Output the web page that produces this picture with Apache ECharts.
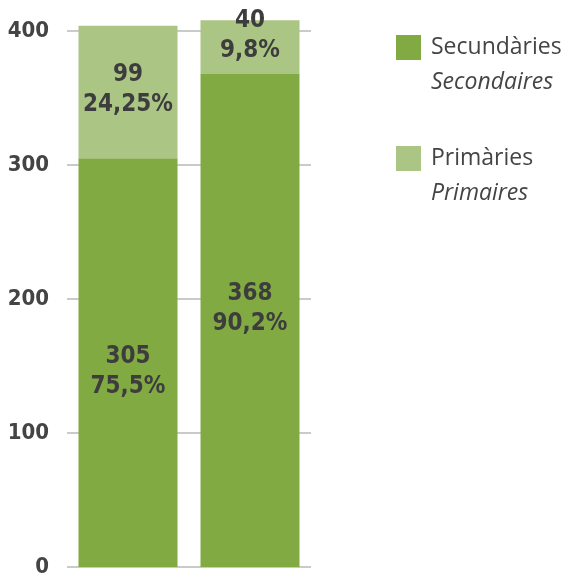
<!DOCTYPE html>
<html>
<head>
<meta charset="utf-8">
<script src="https://cdn.jsdelivr.net/npm/echarts@6/dist/echarts.min.js"></script>
<style>
  html, body { margin: 0; padding: 0; background: #fff; }
  #chart { width: 570px; height: 573px; }
</style>
</head>
<body>
<div id="chart"></div>
<script>
// dades llegides del gràfic
const categories = ['1', '2'];
const secundaries = [305, 368];
const primaries = [99, 40];
const secPct = ['75,5%', '90,2%'];
const primPct = ['24,25%', '9,8%'];
const yTicks = [0, 100, 200, 300, 400];

const DARK = '#82aa43';
const LIGHT = '#abc585';
const TEXT = '#3d3d3d';
const NUM_FONT = "'DejaVu Sans Condensed', 'Liberation Sans Narrow', sans-serif";

// desplaçament vertical de les etiquetes dins de cada tram
const secOffsets = [9, -12];
const primOffsets = [-2, -11];

const chart = echarts.init(document.getElementById('chart'));

const labelRich = {
  n: { fontFamily: NUM_FONT, fontWeight: 'bold', fontSize: 24, color: TEXT, lineHeight: 30 },
  p: { fontFamily: NUM_FONT, fontWeight: 'bold', fontSize: 24, color: TEXT, lineHeight: 30 }
};

const legendRich = {
  e: { fontSize: 23, lineHeight: 35 },
  a: { fontFamily: 'Open Sans', fontSize: 23, color: '#444', lineHeight: 35, padding: [0, 0, 0, 5] },
  b: { fontFamily: 'Open Sans', fontSize: 23, fontStyle: 'italic', color: '#444', lineHeight: 35, padding: [0, 0, 0, 5] }
};

const legendNames = {
  'Secundàries': 'Secondaires',
  'Primàries': 'Primaires'
};

chart.setOption({
  animation: false,
  grid: { left: 67, right: 259, top: 31, bottom: 6, outerBoundsMode: 'none' },
  legend: {
    left: 396,
    top: 1,
    orient: 'vertical',
    padding: 0,
    itemWidth: 25,
    itemHeight: 25,
    itemGap: 18,
    icon: 'rect',
    data: ['Secundàries', 'Primàries'],
    formatter: name => `{e| }\n{a|${name}}\n{b|${legendNames[name]}}`,
    textStyle: { rich: legendRich }
  },
  xAxis: {
    type: 'category',
    data: categories,
    axisLine: { show: false },
    axisTick: { show: false },
    axisLabel: { show: false }
  },
  yAxis: {
    type: 'value',
    min: yTicks[0],
    max: yTicks[yTicks.length - 1],
    interval: 100,
    axisLine: { show: false },
    axisTick: { show: false },
    axisLabel: {
      margin: 18,
      fontFamily: NUM_FONT,
      fontWeight: 'bold',
      fontSize: 22,
      color: '#444'
    },
    splitLine: { lineStyle: { color: '#b8b8b8', width: 1.5 } }
  },
  series: [
    {
      name: 'Secundàries',
      type: 'bar',
      stack: 'total',
      barWidth: 99,
      clip: false,
      itemStyle: { color: DARK },
      label: {
        show: true,
        position: 'inside',
        formatter: p => `{n|${secundaries[p.dataIndex]}}\n{p|${secPct[p.dataIndex]}}`,
        rich: labelRich
      },
      data: secundaries.map((v, i) => ({ value: v, label: { offset: [0, secOffsets[i]] } }))
    },
    {
      name: 'Primàries',
      type: 'bar',
      stack: 'total',
      barWidth: 99,
      clip: false,
      itemStyle: { color: LIGHT },
      label: {
        show: true,
        position: 'inside',
        formatter: p => `{n|${primaries[p.dataIndex]}}\n{p|${primPct[p.dataIndex]}}`,
        rich: labelRich
      },
      data: primaries.map((v, i) => ({ value: v, label: { offset: [0, primOffsets[i]] } }))
    }
  ]
});
</script>
</body>
</html>
